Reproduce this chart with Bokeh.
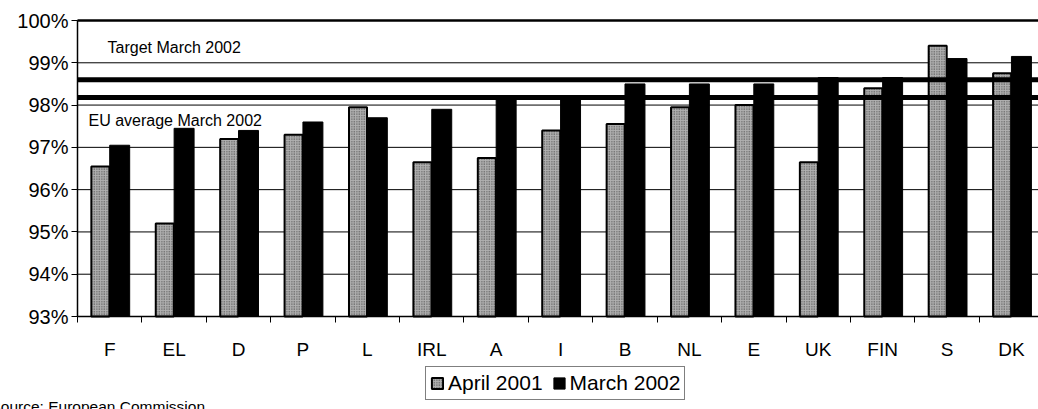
import numpy as np
from bokeh.plotting import figure
from bokeh.models import (Range1d, FixedTicker, Label, Legend, LegendItem,
                          ColumnDataSource)
from bokeh.embed import file_html
from bokeh.resources import INLINE

# ---- data ----
countries = ["F", "EL", "D", "P", "L", "IRL", "A", "I", "B", "NL", "E", "UK", "FIN", "S", "DK"]
april_2001 = [96.55, 95.2, 97.2, 97.3, 97.95, 96.65, 96.75, 97.4, 97.55, 97.95, 98.0, 96.65, 98.4, 99.4, 98.75]
march_2002 = [97.05, 97.45, 97.4, 97.6, 97.7, 97.9, 98.15, 98.15, 98.5, 98.5, 98.5, 98.65, 98.65, 99.1, 99.15]
y_ticks = [93, 94, 95, 96, 97, 98, 99, 100]
y_tick_labels = ["93%", "94%", "95%", "96%", "97%", "98%", "99%", "100%"]
target_march_2002 = 98.6
eu_average_march_2002 = 98.18
series_names = ["April 2001", "March 2002"]
source_text = "Source: European Commission"

FONT = "Liberation Sans"
W, H = 1038, 409
# plot area placement inside the canvas (pixels)
LEFT, TOP, BOTTOM = 77, 20, 316
X_VISIBLE = 14.92          # categories visible up to the right canvas edge

n = len(countries)
y0, y1 = y_ticks[0], y_ticks[-1]
px_x = (W - LEFT) / X_VISIBLE
px_y = (BOTTOM - TOP) / (y1 - y0)

idx = np.arange(n)
centers = idx + 0.5
src = ColumnDataSource(dict(
    x_apr=centers - 0.145,
    x_mar=centers + 0.155,
    apr=april_2001,
    mar=march_2002,
))

p = figure(width=W, height=H,
           x_range=Range1d(-LEFT / px_x, X_VISIBLE),
           y_range=Range1d(y0 - (H - BOTTOM) / px_y, y1 + TOP / px_y),
           output_backend="svg", toolbar_location=None,
           min_border=0, min_border_left=0, min_border_right=0,
           min_border_top=0, min_border_bottom=0)

p.background_fill_color = "white"
p.border_fill_color = "white"
p.outline_line_color = None
p.grid.visible = False

# horizontal gridlines, limited to the plot area (drawn first, under the bars)
p.segment(x0=[0] * len(y_ticks), x1=[n] * len(y_ticks), y0=y_ticks, y1=y_ticks,
          line_color="black", line_width=1)

# bars
r_apr = p.vbar(x="x_apr", top="apr", bottom=y0, width=0.28, source=src,
               fill_color="#b0b0b0", line_color="black", line_width=2,
               hatch_pattern="dot", hatch_color="#3a3a3a", hatch_scale=2.5,
               hatch_weight=1)
r_mar = p.vbar(x="x_mar", top="mar", bottom=y0, width=0.31, source=src,
               fill_color="black", line_color="black", line_width=1)

# top border and reference lines
p.segment(x0=[0], x1=[n], y0=[y1], y1=[y1], line_color="black", line_width=2.5)
p.segment(x0=[0, 0], x1=[n, n],
          y0=[target_march_2002, eu_average_march_2002],
          y1=[target_march_2002, eu_average_march_2002],
          line_color="black", line_width=5, line_cap="butt")

p.add_layout(Label(x=0, y=target_march_2002, x_offset=30, y_offset=24,
                   text="Target March 2002", text_font=FONT,
                   text_font_size="16px", text_color="black"))
p.add_layout(Label(x=0, y=eu_average_march_2002, x_offset=11, y_offset=-32,
                   text="EU average March 2002", text_font=FONT,
                   text_font_size="16px", text_color="black"))

# y axis (fixed at the left edge of the categories)
yax = p.yaxis[0]
yax.fixed_location = 0
yax.bounds = (y0, y1)
yax.ticker = FixedTicker(ticks=y_ticks)
yax.major_label_overrides = {t: l for t, l in zip(y_ticks, y_tick_labels)}
yax.major_label_text_font = FONT
yax.major_label_text_font_size = "20px"
yax.major_label_text_color = "black"
yax.major_tick_in = 0
yax.major_tick_out = 6
yax.major_label_standoff = 3
yax.minor_tick_line_color = None
yax.axis_line_color = "black"
yax.axis_line_width = 1.5
yax.major_tick_line_color = "black"

# x axis: labels at centres, tick marks between categories
xax = p.xaxis[0]
xax.fixed_location = y0
xax.bounds = (0, n)
xax.ticker = FixedTicker(ticks=list(centers), minor_ticks=list(np.arange(n + 1)))
xax.major_label_overrides = {float(c): name for c, name in zip(centers, countries)}
xax.major_label_text_font = FONT
xax.major_label_text_font_size = "19px"
xax.major_label_text_color = "black"
xax.major_tick_in = 0
xax.major_tick_out = 0
xax.minor_tick_in = 0
xax.minor_tick_out = 6
xax.minor_tick_line_color = "black"
xax.major_label_standoff = 16
xax.axis_line_color = "black"
xax.axis_line_width = 1.5

# legend (below the axis)
legend = Legend(items=[LegendItem(label=series_names[0], renderers=[r_apr]),
                       LegendItem(label=series_names[1], renderers=[r_mar])],
                orientation="horizontal", location=(425, 9),
                border_line_color="black", border_line_width=1,
                background_fill_color="white", background_fill_alpha=1,
                label_text_font=FONT, label_text_font_size="21px",
                label_text_color="black",
                glyph_width=14, glyph_height=14, padding=4, spacing=9,
                label_standoff=4, margin=0)
p.add_layout(legend)

# source note, partly cut by the page edge as in the original
p.add_layout(Label(x=-10, y=-5, x_units="screen", y_units="screen",
                   text=source_text, text_font=FONT,
                   text_font_size="15.5px", text_color="black"))

open("out.html", "w").write(file_html(p, INLINE))
